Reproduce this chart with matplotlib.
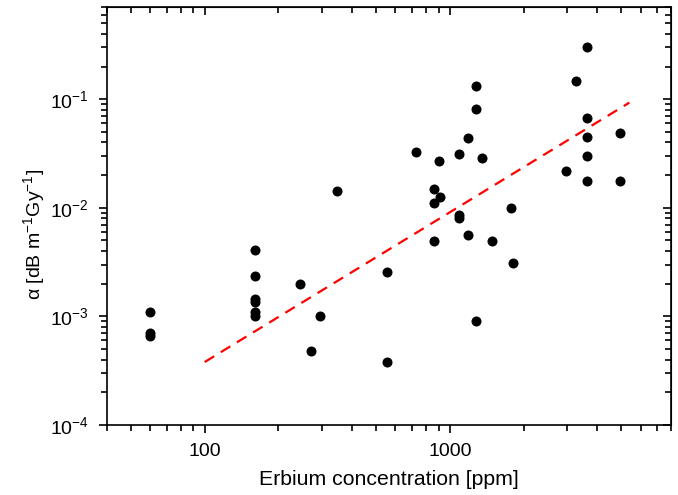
# %% IMPORTS
import numpy as np
import matplotlib
matplotlib.use("Agg")
import matplotlib.pyplot as plt
from matplotlib.ticker import LogLocator, FixedLocator, NullFormatter, FuncFormatter

# %% DATA
# erbium concentration [ppm] and radiation induced attenuation coefficient
er_ppm = [60, 60, 60,
          160, 160, 160, 160, 160, 160,
          244, 272, 296, 346, 556, 556,
          728, 861, 861, 861, 905, 910,
          1088, 1088, 1088, 1187, 1187, 1284, 1284, 1284, 1358,
          1482, 1782, 1807,
          2970, 3273, 3614, 3614, 3614, 3614, 3614, 4955, 4955]
alpha = [1.10e-3, 7.0e-4, 6.6e-4,
         4.1e-3, 2.38e-3, 1.45e-3, 1.35e-3, 1.09e-3, 1.0e-3,
         2.0e-3, 4.8e-4, 1.0e-3, 1.43e-2, 2.56e-3, 3.8e-4,
         3.25e-2, 1.5e-2, 1.1e-2, 4.97e-3, 2.67e-2, 1.25e-2,
         3.14e-2, 8.5e-3, 8.05e-3, 4.4e-2, 5.65e-3, 1.32e-1, 8.2e-2, 9.0e-4, 2.88e-2,
         4.97e-3, 1.0e-2, 3.1e-3,
         2.2e-2, 1.47e-1, 3.0e-1, 6.7e-2, 4.47e-2, 3.0e-2, 1.78e-2, 4.9e-2, 1.75e-2]

# power law fit  alpha = fit_a * ppm ** fit_b
fit_a = 3.8e-4 / 100 ** 1.379
fit_b = 1.379
fit_range = [100, 5400]

# %% PLOT
plt.rcParams['font.family'] = ['Liberation Sans', 'DejaVu Sans']
plt.rcParams['mathtext.default'] = 'regular'

fig = plt.figure(figsize=(6.78, 4.95), dpi=100)
ax = fig.add_axes([0.158, 0.1414, 0.832, 0.8436])

ax.scatter(er_ppm, alpha, s=52, color='black', zorder=3, linewidths=0)
xf = np.logspace(np.log10(fit_range[0]), np.log10(fit_range[1]), 50)
ax.plot(xf, fit_a * xf ** fit_b, '--', color='red', lw=1.6, dashes=(5, 3.5))

ax.set_xscale('log')
ax.set_yscale('log')
ax.set_xlim(40, 8000)
ax.set_ylim(1e-4, 0.7)

ax.xaxis.set_major_locator(FixedLocator([100, 1000]))
ax.xaxis.set_major_formatter(FuncFormatter(lambda v, p: '%d' % v))
ax.xaxis.set_minor_locator(LogLocator(base=10, subs=np.arange(2, 10)))
ax.xaxis.set_minor_formatter(NullFormatter())
ax.yaxis.set_major_locator(LogLocator(base=10, numticks=10))
ax.yaxis.set_major_formatter(FuncFormatter(lambda v, p: '10$^{%d}$' % round(np.log10(v))))
ax.yaxis.set_minor_locator(LogLocator(base=10, subs=np.arange(2, 10), numticks=10))
ax.yaxis.set_minor_formatter(NullFormatter())

for s in ax.spines.values():
    s.set_linewidth(1.2)
ax.tick_params(which='both', direction='out', width=1.2, labelsize=14, pad=7)
ax.tick_params(which='major', length=6)
ax.tick_params(which='minor', length=4)

# mirrored ticks on top and right pointing inward
top = ax.secondary_xaxis('top')
top.set_xscale('log')
top.xaxis.set_major_locator(FixedLocator([100, 1000]))
top.xaxis.set_minor_locator(LogLocator(base=10, subs=np.arange(2, 10)))
top.tick_params(which='both', direction='in', width=1.2, labeltop=False)
top.tick_params(which='major', length=6)
top.tick_params(which='minor', length=4)
right = ax.secondary_yaxis('right')
right.yaxis.set_major_locator(LogLocator(base=10, numticks=10))
right.yaxis.set_minor_locator(LogLocator(base=10, subs=np.arange(2, 10), numticks=10))
right.tick_params(which='both', direction='in', width=1.2, labelright=False)
right.tick_params(which='major', length=6)
right.tick_params(which='minor', length=4)

ax.set_xlabel('Erbium concentration [ppm]', fontsize=15.3, labelpad=7)
ax.set_ylabel('α [dB m$^{-1}$Gy$^{-1}$]', fontsize=14)
ax.yaxis.set_label_coords(-0.107, 0.457)

plt.savefig('out.png', dpi=100)
